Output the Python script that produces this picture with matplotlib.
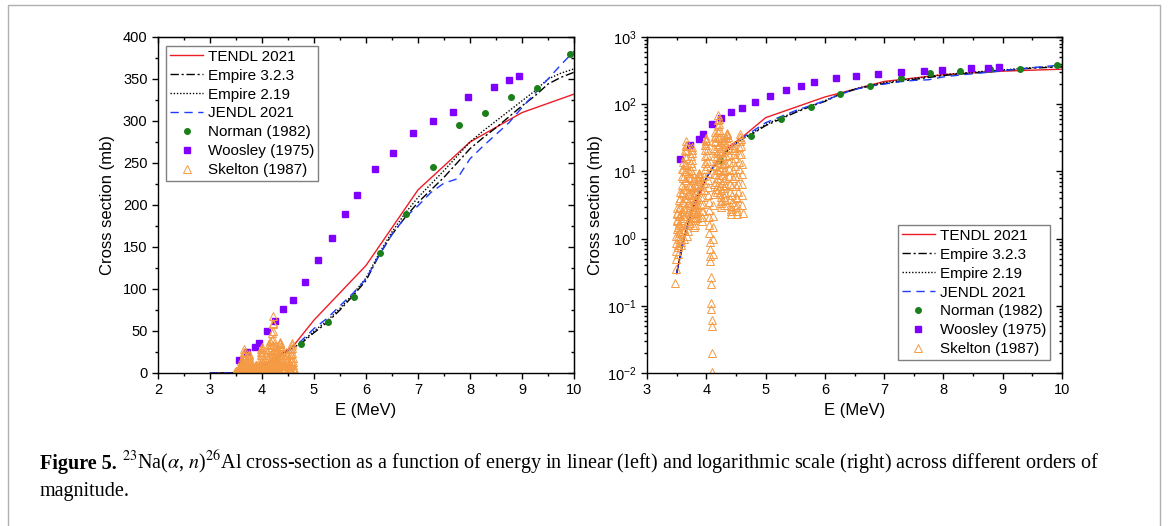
import numpy as np
import matplotlib
matplotlib.use("Agg")
import matplotlib.pyplot as plt
from matplotlib.ticker import MultipleLocator, LogLocator, NullFormatter
from matplotlib.patches import Rectangle

plt.rcParams['font.family'] = ['Liberation Sans', 'DejaVu Sans']
plt.rcParams['mathtext.fontset'] = 'stix'

W, H = 1170, 526

# --- evaluated data (mb) ---
e_tendl = [3.0, 3.4, 3.5, 3.6, 3.8, 4.0, 4.2, 4.4, 4.6, 5.0, 6.0, 7.0, 8.0, 9.0, 10.0]
xs_tendl = [0, 0, 0.3, 0.9, 3.0, 8.0, 15, 24, 32, 63, 128, 218, 275, 310, 332]

e_model = [3.0, 3.4, 3.5, 3.6, 3.7, 3.8, 3.9, 4.0, 4.1, 4.2, 4.3, 4.4, 4.5, 4.6, 4.75,
           5.0, 5.25, 5.5, 5.75, 6.0, 6.25, 6.5, 6.75, 7.0, 7.25, 7.5, 7.75, 8.0,
           8.25, 8.5, 8.75, 9.0, 9.25, 9.5, 9.75, 10.0]
xs_empire323 = [0, 0, 0.3, 0.8, 1.8, 3.5, 5.5, 8, 11, 14, 18, 22, 26, 30, 35,
                48, 60, 75, 92, 110, 140, 165, 185, 203, 218, 233, 250, 267,
                280, 292, 305, 318, 330, 344, 352, 358]
xs_empire219 = [0, 0, 0.3, 0.8, 1.8, 3.5, 5.5, 8, 11, 14, 18, 22, 26, 30, 36,
                50, 62, 77, 94, 113, 142, 168, 190, 209, 225, 241, 258, 275,
                288, 300, 312, 324, 336, 350, 357, 362]
xs_jendl = [0, 0, 0.3, 0.8, 1.8, 3.5, 5.5, 8, 11, 14, 18, 22, 26, 31, 38,
            53, 65, 80, 95, 112, 140, 165, 185, 199, 215, 226, 231, 255,
            270, 284, 298, 316, 333, 350, 367, 383]

# --- experimental data (mb) ---
e_norman = [4.23, 4.75, 5.26, 5.76, 6.26, 6.76, 7.28, 7.78, 8.28, 8.79, 9.29, 9.92]
xs_norman = [15, 34, 61, 91, 143, 189, 245, 295, 310, 329, 339, 380]

e_woosley = [3.56, 3.72, 3.87, 3.94, 4.09, 4.25, 4.41, 4.60, 4.82, 5.07, 5.34,
             5.60, 5.82, 6.18, 6.52, 6.90, 7.28, 7.67, 7.97, 8.46, 8.75, 8.94]
xs_woosley = [15.5, 25, 30.5, 36, 50, 62, 76, 87, 108, 134, 161,
              189, 212, 243, 262, 286, 300, 311, 328, 341, 349, 354]

# Skelton (1987): (energy MeV, cross section mb)
skelton_points = [
    (3.480, 0.22), (3.484, 0.35), (3.487, 0.5), (3.490, 0.65), (3.493, 0.85), (3.496, 1.1),
    (3.499, 1.4), (3.502, 1.8), (3.505, 2.3), (3.508, 2.9), (3.511, 2.4), (3.514, 1.9),
    (3.517, 1.5), (3.520, 1.1), (3.523, 0.8), (3.526, 0.6), (3.529, 0.75), (3.532, 1.0),
    (3.535, 1.3), (3.538, 1.7), (3.541, 2.2), (3.544, 2.9), (3.547, 3.8), (3.550, 5.0),
    (3.553, 4.0), (3.556, 3.0), (3.559, 2.2), (3.562, 1.6), (3.565, 1.2), (3.568, 0.9),
    (3.571, 0.8), (3.574, 1.0), (3.577, 1.4), (3.580, 1.9), (3.583, 2.6), (3.586, 3.5),
    (3.589, 4.7), (3.592, 6.3), (3.595, 8.5), (3.598, 11), (3.601, 14), (3.604, 11),
    (3.607, 8), (3.610, 5.5), (3.613, 3.5), (3.616, 2.2), (3.619, 1.3), (3.622, 1.0),
    (3.625, 1.4), (3.628, 2.0), (3.631, 2.8), (3.634, 4), (3.637, 5.5), (3.640, 7.5),
    (3.642, 10), (3.644, 13), (3.646, 17), (3.648, 21), (3.650, 25), (3.652, 28),
    (3.654, 24), (3.656, 20), (3.658, 16), (3.660, 12.5), (3.662, 10), (3.665, 7.5),
    (3.668, 5.5), (3.671, 4), (3.674, 3), (3.677, 2.2), (3.680, 1.6), (3.683, 1.1),
    (3.686, 1.3), (3.689, 1.8), (3.692, 2.5), (3.695, 3.4), (3.698, 4.6), (3.701, 6.2),
    (3.704, 8.2), (3.707, 10), (3.710, 8), (3.713, 6), (3.716, 4.4), (3.719, 3.2),
    (3.722, 2.3), (3.725, 1.7), (3.728, 2.3), (3.731, 3.2), (3.734, 4.4), (3.737, 6),
    (3.740, 8), (3.743, 10.5), (3.746, 13.5), (3.749, 17), (3.752, 21), (3.755, 23),
    (3.758, 19), (3.761, 15), (3.764, 12), (3.767, 9.5), (3.770, 7.5), (3.773, 5.8),
    (3.776, 4.5), (3.779, 3.4), (3.782, 2.6), (3.785, 2.0), (3.788, 1.5), (3.791, 1.9),
    (3.794, 2.5), (3.797, 3.3), (3.800, 2.6), (3.803, 2.0), (3.806, 1.6), (3.809, 2.1),
    (3.812, 2.8), (3.815, 3.7), (3.818, 4.8), (3.821, 6.2), (3.824, 5), (3.827, 3.9),
    (3.830, 3.0), (3.833, 2.4), (3.836, 2.0), (3.840, 2.5), (3.845, 3.2), (3.850, 4.1),
    (3.855, 5.2), (3.860, 6.4), (3.865, 7.6), (3.870, 8.5), (3.875, 9.2), (3.880, 9.5),
    (3.885, 9.0), (3.890, 8.2), (3.895, 7.2), (3.900, 6.2), (3.905, 5.2), (3.910, 4.2),
    (3.915, 3.3), (3.920, 2.6), (3.925, 2.1), (3.930, 1.8), (3.935, 2.1), (3.940, 2.6),
    (3.945, 3.3), (3.950, 4.2), (3.955, 5.3), (3.960, 6.7), (3.965, 8.5), (3.970, 10.7),
    (3.974, 13.5), (3.978, 17), (3.982, 21), (3.986, 25), (3.990, 28), (3.994, 31),
    (3.998, 29), (4.002, 25), (4.006, 21), (4.010, 17.5), (4.014, 14.5), (4.018, 12),
    (4.022, 9.5), (4.026, 7.5), (4.030, 5.8), (4.034, 4.5), (4.038, 3.5), (4.042, 2.7),
    (4.046, 2.1), (4.050, 1.6), (4.054, 1.2), (4.058, 0.9), (4.062, 0.7), (4.066, 0.55),
    (4.070, 0.47), (4.074, 0.27), (4.078, 0.21), (4.082, 0.11), (4.086, 0.09), (4.090, 0.062),
    (4.094, 0.05), (4.098, 0.02), (4.102, 0.0105), (4.106, 0.6), (4.110, 1.0), (4.113, 1.5),
    (4.116, 2.2), (4.119, 3.2), (4.122, 4.6), (4.125, 6.5), (4.128, 9), (4.131, 12.5),
    (4.134, 17), (4.137, 22), (4.140, 28), (4.143, 34), (4.146, 38), (4.149, 33),
    (4.152, 27), (4.155, 21), (4.158, 16), (4.161, 12), (4.164, 9), (4.167, 7),
    (4.170, 5.5), (4.173, 5), (4.176, 6), (4.179, 8), (4.182, 10.5), (4.185, 14),
    (4.188, 18.5), (4.191, 24), (4.194, 31), (4.197, 39), (4.200, 48), (4.203, 58),
    (4.206, 68), (4.209, 60), (4.212, 50), (4.215, 41), (4.218, 33), (4.221, 26),
    (4.224, 20), (4.227, 15), (4.230, 11), (4.233, 8), (4.236, 6), (4.239, 4.6),
    (4.242, 3.6), (4.245, 3.0), (4.248, 3.4), (4.251, 4.2), (4.254, 5.3), (4.257, 6.8),
    (4.260, 8.8), (4.263, 11.5), (4.266, 15), (4.269, 19.5), (4.272, 24), (4.275, 29),
    (4.278, 32), (4.281, 27), (4.284, 22), (4.287, 17), (4.290, 13), (4.293, 10),
    (4.296, 7.5), (4.299, 5.6), (4.302, 4.2), (4.305, 3.2), (4.308, 3.8), (4.311, 4.8),
    (4.314, 6.2), (4.317, 8), (4.320, 10.5), (4.324, 13.5), (4.328, 17), (4.332, 21),
    (4.336, 26), (4.340, 31), (4.345, 35), (4.350, 37), (4.355, 36), (4.360, 32),
    (4.365, 27), (4.370, 22), (4.375, 17.5), (4.380, 14), (4.385, 11), (4.390, 8.5),
    (4.395, 6.5), (4.400, 5), (4.405, 3.9), (4.410, 3.1), (4.415, 2.6), (4.420, 2.3),
    (4.425, 2.8), (4.430, 3.5), (4.435, 4.5), (4.440, 6), (4.445, 8), (4.450, 10.5),
    (4.455, 14), (4.460, 18), (4.465, 22), (4.470, 25), (4.475, 21), (4.480, 16),
    (4.485, 12), (4.490, 8.5), (4.495, 6), (4.500, 4.2), (4.505, 3.0), (4.510, 2.3),
    (4.515, 2.6), (4.520, 3.2), (4.525, 4.0), (4.530, 5.0), (4.535, 6.5), (4.540, 8.5),
    (4.545, 11), (4.550, 14), (4.555, 18), (4.560, 23), (4.565, 28), (4.570, 33),
    (4.575, 36), (4.580, 30), (4.585, 24), (4.590, 18), (4.594, 13), (4.598, 9),
    (4.602, 6.5), (4.606, 4.5), (4.610, 3.2), (4.614, 2.4),
]
e_skelton = [p[0] for p in skelton_points]
xs_skelton = [p[1] for p in skelton_points]


def draw(ax):
    ax.plot(e_tendl, xs_tendl, color='#EE1C25', lw=1.0, label='TENDL 2021')
    ax.plot(e_model, xs_empire323, color='black', lw=1.0, ls=(0, (6, 2, 1.5, 2)), label='Empire 3.2.3')
    ax.plot(e_model, xs_empire219, color='black', lw=1.0, ls=(0, (1, 1.3)), label='Empire 2.19')
    ax.plot(e_model, xs_jendl, color='#1F3BFF', lw=1.0, ls=(0, (6, 4)), label='JENDL 2021')
    ax.plot(e_norman, xs_norman, 'o', color='#1B7F1B', ms=4, ls='none', label='Norman (1982)')
    ax.plot(e_woosley, xs_woosley, 's', color='#8000FF', ms=4.5, ls='none', label='Woosley (1975)')
    ax.plot(e_skelton, xs_skelton, '^', mfc='none', mec='#F59B45', mew=0.7, ms=5.5,
            ls='none', label='Skelton (1987)')


def style(ax):
    ax.tick_params(which='both', direction='out', labelsize=10.5, width=1)
    ax.tick_params(which='major', length=4)
    ax.tick_params(which='minor', length=2.5)
    for s in ax.spines.values():
        s.set_linewidth(1.0)
    ax.xaxis.set_major_locator(MultipleLocator(1))
    ax.xaxis.set_minor_locator(MultipleLocator(0.5))
    top = ax.secondary_xaxis('top')
    top.xaxis.set_major_locator(MultipleLocator(1))
    top.xaxis.set_minor_locator(MultipleLocator(0.5))
    top.tick_params(which='both', direction='in', labeltop=False, width=1)
    top.tick_params(which='major', length=4)
    top.tick_params(which='minor', length=2.5)
    right = ax.secondary_yaxis('right')
    right.tick_params(which='both', direction='in', labelright=False, width=1)
    right.tick_params(which='major', length=4)
    right.tick_params(which='minor', length=2.5)
    return right


legend_kw = dict(fontsize=11, frameon=True, fancybox=False, edgecolor='#808080', framealpha=1,
                 handlelength=2.2, handletextpad=0.3, labelspacing=0.32, borderpad=0.25,
                 borderaxespad=0, bbox_transform=None)

fig = plt.figure(figsize=(W / 100, H / 100), dpi=100)
ax1 = fig.add_axes([158 / W, 1 - 373 / H, 416 / W, 336 / H])
ax2 = fig.add_axes([647 / W, 1 - 373 / H, 415 / W, 336 / H])
legend_kw['bbox_transform'] = fig.transFigure

draw(ax1)
ax1.set_xlim(2, 10)
ax1.set_ylim(0, 400)
r1 = style(ax1)
ax1.yaxis.set_major_locator(MultipleLocator(50))
ax1.yaxis.set_minor_locator(MultipleLocator(25))
r1.yaxis.set_major_locator(MultipleLocator(50))
r1.yaxis.set_minor_locator(MultipleLocator(25))
ax1.set_xlabel('E (MeV)', fontsize=12, labelpad=4)
ax1.set_ylabel('Cross section (mb)', fontsize=12, labelpad=6)
ax1.legend(loc='upper left', bbox_to_anchor=(166 / W, 1 - 46 / H), **legend_kw)

draw(ax2)
ax2.set_yscale('log', nonpositive='mask')
ax2.set_xlim(3, 10)
ax2.set_ylim(1e-2, 1e3)
r2 = style(ax2)
ax2.yaxis.set_major_locator(LogLocator(base=10, numticks=10))
ax2.yaxis.set_minor_locator(LogLocator(base=10, subs=np.arange(2, 10), numticks=10))
ax2.yaxis.set_minor_formatter(NullFormatter())
r2.yaxis.set_major_locator(LogLocator(base=10, numticks=10))
r2.yaxis.set_minor_locator(LogLocator(base=10, subs=np.arange(2, 10), numticks=10))
r2.yaxis.set_minor_formatter(NullFormatter())
ax2.set_xlabel('E (MeV)', fontsize=12, labelpad=4)
ax2.set_ylabel('Cross section (mb)', fontsize=12, labelpad=3)
ax2.legend(loc='lower right', bbox_to_anchor=(1050 / W, 1 - 360 / H), **legend_kw)

# caption
serif = ['Liberation Serif', 'DejaVu Serif']
rend = fig.canvas.get_renderer()
t1 = fig.text(40 / W, 1 - 469 / H, 'Figure 5.', family=serif, fontweight='bold',
              fontsize=14.5, va='baseline')
bb = t1.get_window_extent(renderer=rend)
fig.text((bb.x1 + 5) / W, 1 - 469 / H,
         r'$^{23}$Na($\alpha$, $n$)$^{26}$Al cross-section as a function of energy in linear (left) '
         r'and logarithmic scale (right) across different orders of',
         family=serif, fontsize=14.5, va='baseline')
fig.text(40 / W, 1 - 496 / H, 'magnitude.', family=serif, fontsize=14.5, va='baseline')

fig.patches.append(Rectangle((8 / W, -0.1), 1152 / W, 1.1 - 5 / H, transform=fig.transFigure,
                             fill=False, edgecolor='#B0B0B0', lw=1.0))

fig.savefig('out.png', dpi=100)
